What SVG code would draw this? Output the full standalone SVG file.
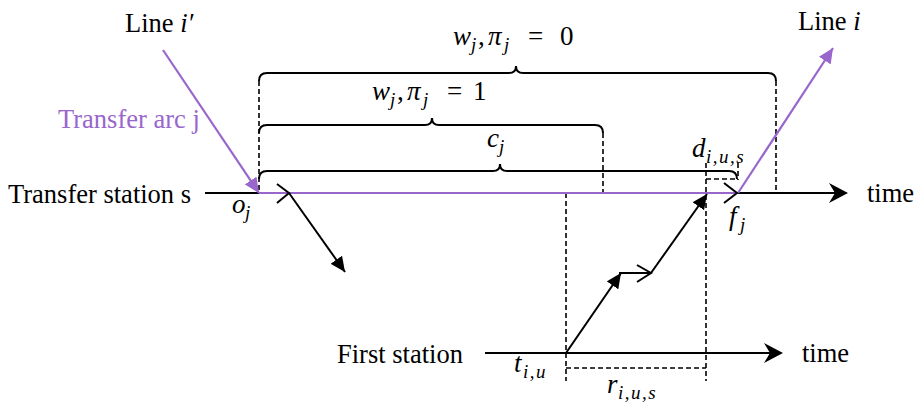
<svg xmlns="http://www.w3.org/2000/svg" width="918" height="402" viewBox="0 0 918 402">
<style>
.t{font-family:"Liberation Serif","Times New Roman","DejaVu Serif",serif;font-size:26.5px;fill:#000}
.m{font-family:"Liberation Serif","Times New Roman","DejaVu Serif",serif;font-size:27px;font-style:italic;fill:#000}
.up{font-style:normal}
.sub{font-size:19px;font-style:italic}
.sp{letter-spacing:1.5px}
.p{fill:#9966CC}
.ln{stroke:#000;stroke-width:2;fill:none}
.pl{stroke:#9966CC;stroke-width:2.2;fill:none}
.ds{stroke:#000;stroke-width:1.6;fill:none;stroke-dasharray:5 3}
.br{stroke:#000;stroke-width:2;fill:none}
</style>
<defs>
<marker id="ah" markerUnits="userSpaceOnUse" markerWidth="16" markerHeight="14" refX="15" refY="7" orient="auto"><path d="M0,0 L15,7 L0,14 z" fill="#000"/></marker>
<marker id="ahp" markerUnits="userSpaceOnUse" markerWidth="16" markerHeight="14" refX="15" refY="7" orient="auto"><path d="M0,0 L15,7 L0,14 z" fill="#9966CC"/></marker>
</defs>
<g id="connectors">
<path class="ln" d="M205,193 H844"/>
<path d="M848,193 L829,183 L835,193 L829,203 z" fill="#000"/>
<path class="ln" d="M485,353 H779"/>
<path d="M783,353 L764,343 L770,353 L764,363 z" fill="#000"/>
<path class="ds" d="M259,81 V193"/>
<path class="ds" d="M776,81 V193"/>
<path class="ds" d="M603,133 V193"/>
<path class="ds" d="M706,163 V381"/>
<path class="ds" d="M738,163 V180"/>
<path class="ds" d="M706,179 H738"/>
<path class="ds" d="M566,193 V381"/>
<path class="ds" d="M566,368 H706"/>
<path class="br" d="M259,81 Q259,73 267,73 H509 Q516,73 516,66 Q516,73 523,73 H768 Q776,73 776,81"/>
<path class="br" d="M259,133 Q259,125 267,125 H425 Q432,125 432,118 Q432,125 439,125 H595 Q603,125 603,133"/>
<path class="br" d="M259,179 Q259,171 267,171 H493 Q500,171 500,164 Q500,171 507,171 H729 Q737,171 737,179"/>
<path class="pl" d="M259,193 H738"/>
<path class="pl" d="M163,50 L259,193" marker-end="url(#ahp)"/>
<path class="pl" d="M738,193 L833,48" marker-end="url(#ahp)"/>
<path class="ln" d="M277,184 L289,193 L277,203"/>
<path class="ln" d="M289,193 L345,272" marker-end="url(#ah)"/>
<path class="ln" d="M566,353 L621,273" marker-end="url(#ah)"/>
<path class="ln" d="M619,273 H651"/>
<path class="ln" d="M637,265 L651,273 L637,282"/>
<path class="ln" d="M651,273 L707,194" marker-end="url(#ah)"/>
<path class="ln" d="M724,183 L737,193 L724,203"/>
</g>
<g id="labels">
<text class="t" x="125" y="32">Line <tspan font-style="italic">i′</tspan></text>
<text class="t" x="798" y="30">Line <tspan font-style="italic">i</tspan></text>
<text class="t p" x="58" y="128">Transfer arc j</text>
<text class="t" x="8" y="203">Transfer station s</text>
<text class="t" x="337" y="363">First station</text>
<text class="t" x="867" y="202">time</text>
<text class="t" x="802" y="362">time</text>
<text class="m" y="45"><tspan x="453">w</tspan><tspan class="sub" x="471" y="51">j</tspan><tspan class="up" x="478" y="45">,</tspan><tspan x="488">π</tspan><tspan class="sub" x="504" y="51">j</tspan><tspan class="up" x="528" y="45">=</tspan><tspan class="up" x="560">0</tspan></text>
<text class="m" y="100"><tspan x="372">w</tspan><tspan class="sub" x="390" y="106">j</tspan><tspan class="up" x="397" y="100">,</tspan><tspan x="407">π</tspan><tspan class="sub" x="423" y="106">j</tspan><tspan class="up" x="447" y="100">=</tspan><tspan class="up" x="473">1</tspan></text>
<text class="m" y="147"><tspan x="487">c</tspan><tspan class="sub" x="499" y="153">j</tspan></text>
<text class="m" y="157"><tspan x="692">d</tspan><tspan class="sub sp" x="706" y="163">i,u,s</tspan></text>
<text class="m" y="213"><tspan x="232">o</tspan><tspan class="sub" x="245" y="219">j</tspan></text>
<text class="m" y="225"><tspan x="729">f</tspan><tspan class="sub" x="740" y="231">j</tspan></text>
<text class="m" y="372"><tspan x="514">t</tspan><tspan class="sub sp" x="523" y="378">i,u</tspan></text>
<text class="m" y="393"><tspan x="607">r</tspan><tspan class="sub sp" x="618" y="399">i,u,s</tspan></text>
</g>
</svg>
